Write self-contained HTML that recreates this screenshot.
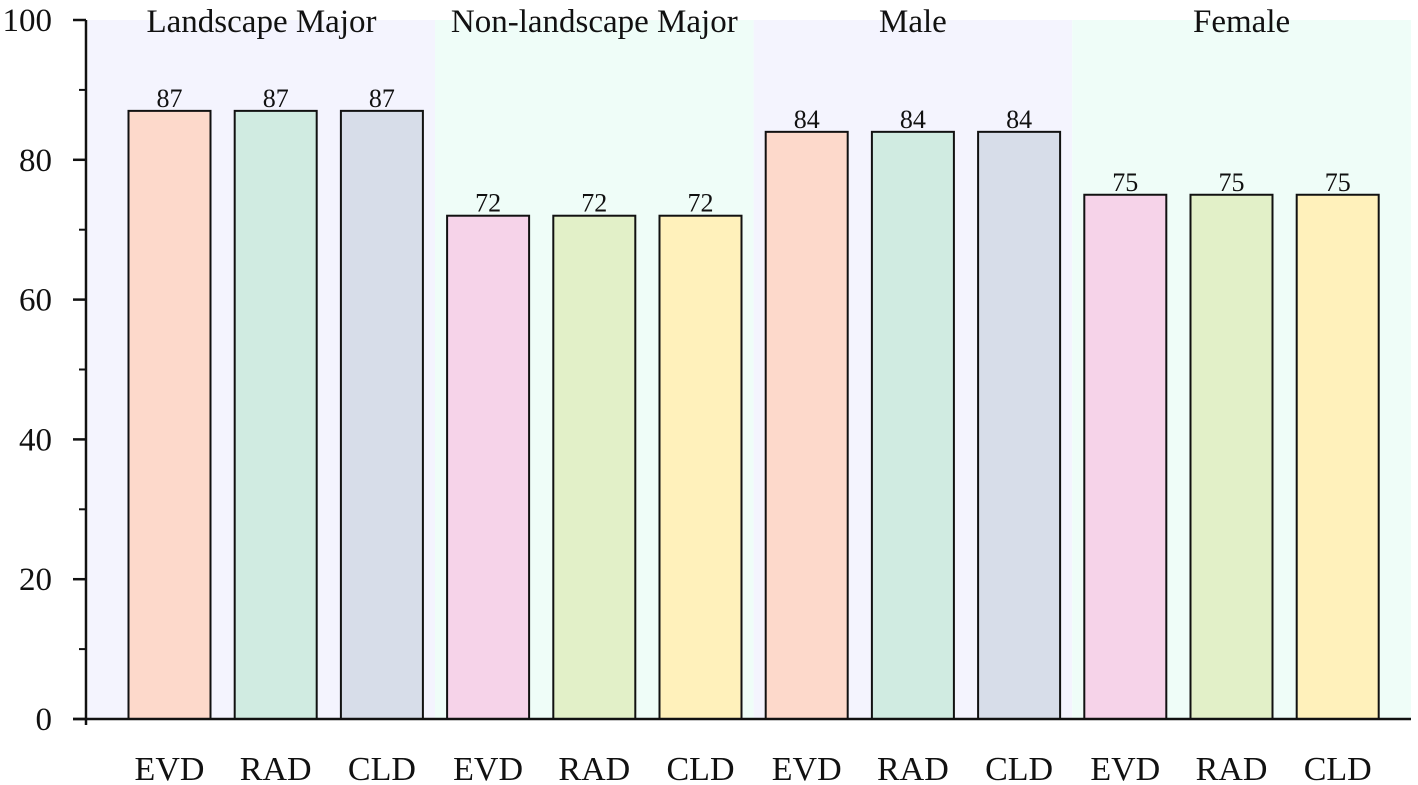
<!DOCTYPE html>
<html><head><meta charset="utf-8"><style>
html,body{margin:0;padding:0;background:#fff;}
svg{display:block;font-family:"Liberation Serif",serif;}
</style></head><body>
<svg id="chart" width="1418" height="785"></svg>
<script>
const groups = ["Landscape Major","Non-landscape Major","Male","Female"];
const methods = ["EVD","RAD","CLD"];
const values = [87,87,87,72,72,72,84,84,84,75,75,75];
const yTicks = [0,20,40,60,80,100];
const yMinorTicks = [10,30,50,70,90];

const NS="http://www.w3.org/2000/svg";
const svg=document.getElementById('chart');
const X0=88, X1=1411, Y0=719, Y100=20;
const yScale=v=>Y0-(v/100)*(Y0-Y100);
const first=169.5, step=106.2, barW=82;
const xCenter=i=>first+i*step;
const palA=["#fdd9cb","#d0ebe1","#d7dde9"], palB=["#f6d3e9","#e2f0c8","#fff1bb"];
const bandCols=["#f4f4fe","#effdf8"];
function mk(tag,attrs,parent){const e=document.createElementNS(NS,tag);for(const k in attrs)e.setAttribute(k,attrs[k]);(parent||svg).appendChild(e);return e;}

groups.forEach((g,gi)=>{
  const left=gi===0?X0:(xCenter(gi*3-1)+xCenter(gi*3))/2;
  const right=gi===groups.length-1?X1:(xCenter(gi*3+2)+xCenter(gi*3+3))/2;
  const r=mk('rect',{x:left,y:Y100,width:right-left,height:Y0-Y100,fill:bandCols[gi%2]});
  
  
  const t=mk('text',{x:(left+right)/2,y:32,'font-size':33,'text-anchor':'middle',fill:'#111'});
  t.textContent=g;
  
  
});
values.forEach((v,i)=>{
  const gi=Math.floor(i/3), mi=i%3;
  const cx=xCenter(i), top=yScale(v);
  const r=mk('rect',{x:cx-barW/2,y:top,width:barW,height:Y0-top,fill:(gi%2?palB:palA)[mi],stroke:'#111','stroke-width':2});
  
  
  const t=mk('text',{x:cx,y:top-4,'font-size':26,'text-anchor':'middle',fill:'#111'});
  t.textContent=v;
  
  
  const c=mk('text',{x:cx,y:780,'font-size':34,'text-anchor':'middle',fill:'#111'});
  c.textContent=methods[mi];
  
  
});
const ya=mk('line',{x1:86,y1:Y100,x2:86,y2:Y0+6,stroke:'#111','stroke-width':2.5});


const xa=mk('line',{x1:73,y1:Y0,x2:X1,y2:Y0,stroke:'#111','stroke-width':2.5});


yTicks.forEach(v=>{
  const y=yScale(v);
  const l=mk('line',{x1:73,y1:y,x2:86,y2:y,stroke:'#111','stroke-width':2.5});
  
  
  const t=mk('text',{x:52,y:y+11,'font-size':33,'text-anchor':'end',fill:'#111'});
  t.textContent=v;
  
  
});
yMinorTicks.forEach(v=>{
  const y=yScale(v);
  const l=mk('line',{x1:79,y1:y,x2:86,y2:y,stroke:'#111','stroke-width':2});
  
  
});
</script>
</body></html>
